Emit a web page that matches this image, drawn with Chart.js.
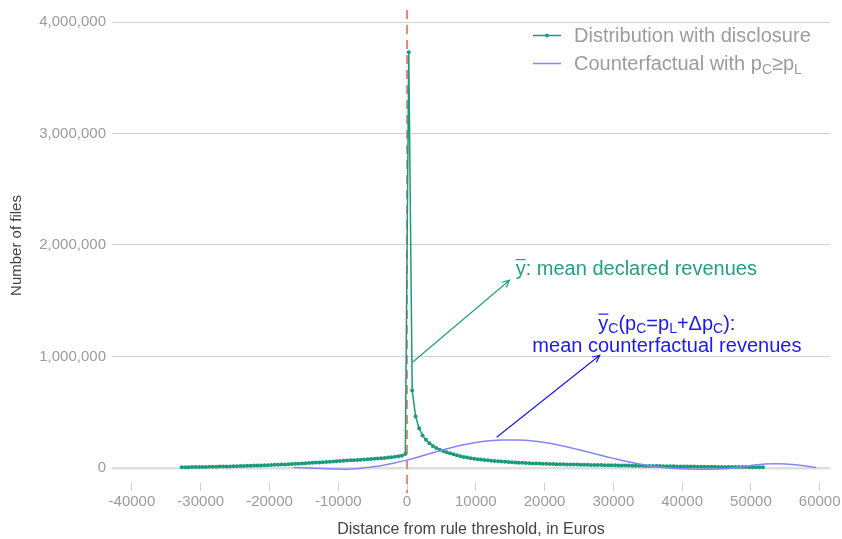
<!DOCTYPE html>
<html>
<head>
<meta charset="utf-8">
<script src="https://cdn.jsdelivr.net/npm/chart.js@4.4.1/dist/chart.umd.min.js"></script>
<style>
  html, body { margin: 0; padding: 0; background: #fff; }
  #wrap { width: 842px; height: 539px; }
</style>
</head>
<body>
<div id="wrap"><canvas id="chart" width="842" height="539"></canvas></div>
<script>
// Bunching at the disclosure threshold — histogram vs counterfactual

const xTicks = [-40000, -30000, -20000, -10000, 0, 10000, 20000, 30000, 40000, 50000, 60000];
const yTicks = [0, 1000000, 2000000, 3000000, 4000000];

// histogram bins: 500 euro wide, first centre at -32750
const binStart = -32750;
const binWidth = 500;
const greenCounts = [
    6000, 6500, 7000, 7500, 8000, 8500, 9000, 9500, 10000, 10500,
    11000, 12000, 12500, 13000, 14000, 15000, 16000, 17000, 18000, 19000,
    20000, 21000, 22000, 23000, 24000, 25000,
    27000, 28000, 29000, 31000, 32000, 34000, 35000, 37000, 38000, 40000,
    42000, 44000, 46000, 48000, 50000, 52000, 54000, 56000, 58000, 60000,
    62000, 64000, 66000, 68000, 70000, 72000, 74000, 76000, 78000, 80000,
    82000, 85000, 87000, 90000, 93000, 96000, 100000, 104000, 110000, 125000,
    3730000, 695000, 462000, 356000, 292000, 252000, 222000, 198000, 179000, 164000,
    152000, 141000, 131000, 122000, 114000, 106000, 99000, 93000, 88000, 83000,
    79000, 75000, 71000, 68000, 65000, 62000, 60000, 58000, 56000, 54000,
    51000, 49000, 47000, 46000, 44000, 43000, 41000, 40000, 39000, 38000,
    37000, 36000, 35000, 34000, 33000, 32500, 32000, 31000, 30500, 30000,
    29500, 29000, 28000, 27500, 27000, 26500, 26000, 25000, 24500, 24000,
    23500, 23000, 22500, 22000, 21000, 20500, 20000, 19500, 19000, 18500,
    18000, 17500, 17000, 16500, 16000, 15500, 15000, 14500, 14000, 13500,
    13000, 12500, 12000, 12000, 11500, 11000, 11000, 10500, 10000, 10000,
    9500, 9000, 9000, 8500, 8500, 8000, 8000, 7500, 7500, 7000,
    7000, 6500, 6500, 6000
];

// counterfactual density (smooth curve)
const blueX = [-16500, -14000, -12000, -10000, -8000, -6000, -4000, -2000,
    0, 2000, 4000, 6000, 8000, 10000, 12000, 14000, 16000, 18000,
    20000, 22000, 24000, 26000, 28000, 30000, 32000, 34000, 36000, 38000,
    40000, 42000, 44000, 46000, 48000, 50000, 52000, 54000, 56000, 58000, 59500];
const blueY = [5000, 0, -6000, -10000, -10000, 3000, 18000, 42000,
    70000, 105000, 140000, 175000, 205000, 228000, 243000, 251000, 250000, 243000,
    228000, 206000, 178000, 148000, 117000, 86000, 57000, 33000, 12000, 0,
    -8000, -12000, -12000, -8000, 5000, 22000, 36000, 38000, 32000, 18000, 3000];

const GREEN = '#1b9a7c';
const GREEN_TXT = '#22a080';
const BLUE_LINE = '#8585ff';
const BLUE_TXT = '#1a1af0';
const GREY = '#9c9c9c';
const FONT = "'Liberation Sans', Arial, sans-serif";

const greenPoints = greenCounts.map((v, i) => ({ x: binStart + i * binWidth, y: v }));
const bluePoints = blueX.map((x, i) => ({ x: x, y: blueY[i] }));

function fontStr(size) { return size + 'px ' + FONT; }

function richWidth(ctx, parts, size) {
    let w = 0;
    for (const p of parts) {
        ctx.font = fontStr(p.sub ? size * 0.7 : size);
        w += ctx.measureText(p.t).width;
    }
    return w;
}

function drawRich(ctx, parts, x, y, size, color, align) {
    const w = richWidth(ctx, parts, size);
    let cx = align === 'center' ? x - w / 2 : x;
    ctx.textAlign = 'left';
    ctx.textBaseline = 'alphabetic';
    ctx.fillStyle = color;
    ctx.strokeStyle = color;
    for (const p of parts) {
        const s = p.sub ? size * 0.7 : size;
        ctx.font = fontStr(s);
        const dy = p.sub ? size * 0.18 : 0;
        ctx.fillText(p.t, cx, y + dy);
        const pw = ctx.measureText(p.t).width;
        if (p.over) {
            ctx.lineWidth = 1.2;
            ctx.beginPath();
            ctx.moveTo(cx, y - size * 0.78);
            ctx.lineTo(cx + pw, y - size * 0.78);
            ctx.stroke();
        }
        cx += pw;
    }
}

function arrow(ctx, x0, y0, x1, y1, color) {
    const a = Math.atan2(y1 - y0, x1 - x0);
    const h = 8;
    ctx.strokeStyle = color;
    ctx.lineWidth = 1.2;
    ctx.beginPath();
    ctx.moveTo(x0, y0);
    ctx.lineTo(x1, y1);
    ctx.moveTo(x1 - h * Math.cos(a - 0.45), y1 - h * Math.sin(a - 0.45));
    ctx.lineTo(x1, y1);
    ctx.lineTo(x1 - h * Math.cos(a + 0.45), y1 - h * Math.sin(a + 0.45));
    ctx.stroke();
}

const overlay = {
    id: 'overlay',
    beforeDatasetsDraw(chart) {
        const { ctx, chartArea, scales: { x } } = chart;
        const px = x.getPixelForValue(0);
        ctx.save();
        ctx.strokeStyle = 'rgba(238,110,90,0.85)';
        ctx.lineWidth = 2;
        ctx.setLineDash([9, 6]);
        ctx.beginPath();
        ctx.moveTo(px, chartArea.top + 2);
        ctx.lineTo(px, chartArea.bottom + 10);
        ctx.stroke();
        ctx.restore();
    },
    afterDatasetsDraw(chart) {
        const { ctx, chartArea, scales: { x, y } } = chart;
        ctx.save();

        // legend
        const lx = chartArea.right - 297;
        ctx.lineWidth = 1.5;
        ctx.strokeStyle = GREEN;
        ctx.beginPath(); ctx.moveTo(lx, 35.5); ctx.lineTo(lx + 28, 35.5); ctx.stroke();
        ctx.fillStyle = GREEN;
        ctx.beginPath(); ctx.arc(lx + 14, 35.5, 2, 0, Math.PI * 2); ctx.fill();
        ctx.strokeStyle = BLUE_LINE;
        ctx.beginPath(); ctx.moveTo(lx, 63.5); ctx.lineTo(lx + 28, 63.5); ctx.stroke();
        drawRich(ctx, [{ t: 'Distribution with disclosure' }], lx + 41, 42, 20, GREY, 'left');
        drawRich(ctx, [{ t: 'Counterfactual with p' }, { t: 'C', sub: true }, { t: '\u2265p' }, { t: 'L', sub: true }],
            lx + 41, 70, 20, GREY, 'left');

        // annotations
        arrow(ctx, x.getPixelForValue(800), y.getPixelForValue(948000),
            x.getPixelForValue(14900), y.getPixelForValue(1684000), GREEN_TXT);
        drawRich(ctx, [{ t: 'y', over: true }, { t: ': mean declared revenues' }],
            x.getPixelForValue(15800), y.getPixelForValue(1729000), 20, GREEN_TXT, 'left');

        arrow(ctx, x.getPixelForValue(13030), y.getPixelForValue(275000),
            x.getPixelForValue(28030), y.getPixelForValue(1011000), BLUE_TXT);
        const bx = x.getPixelForValue(37780);
        drawRich(ctx, [{ t: 'y', over: true }, { t: 'C', sub: true }, { t: '(p' }, { t: 'C', sub: true },
            { t: '=p' }, { t: 'L', sub: true }, { t: '+\u0394p' }, { t: 'C', sub: true }, { t: '):' }],
            bx, y.getPixelForValue(1240000), 20, BLUE_TXT, 'center');
        drawRich(ctx, [{ t: 'mean counterfactual revenues' }],
            bx, y.getPixelForValue(1038000), 20, BLUE_TXT, 'center');
        ctx.restore();
    }
};

new Chart(document.getElementById('chart'), {
    type: 'line',
    data: {
        datasets: [
            {
                label: 'Counterfactual with pC\u2265pL',
                data: bluePoints,
                borderColor: BLUE_LINE,
                borderWidth: 1.5,
                pointRadius: 0,
                tension: 0.4,
                fill: false,
            },
            {
                label: 'Distribution with disclosure',
                data: greenPoints,
                borderColor: GREEN,
                backgroundColor: GREEN,
                borderWidth: 1.5,
                pointRadius: 2,
                pointBorderWidth: 0,
                pointBackgroundColor: GREEN,
                tension: 0,
                fill: false,
            },
        ],
    },
    options: {
        responsive: false,
        animation: false,
        layout: { padding: { top: 8, right: 12, bottom: 0, left: 0 } },
        plugins: {
            legend: { display: false },
            tooltip: { enabled: false },
        },
        scales: {
            x: {
                type: 'linear',
                min: -42900,
                max: 61500,
                afterBuildTicks: (axis) => { axis.ticks = xTicks.map(v => ({ value: v })); },
                afterFit: (axis) => {
                    axis.height = 56;
                    axis.paddingLeft = 0;
                    axis.paddingRight = 0;
                },
                ticks: {
                    color: GREY,
                    font: { family: FONT, size: 15 },
                    padding: 2,
                    maxRotation: 0,
                    autoSkip: false,
                    callback: (v) => String(v),
                },
                grid: {
                    drawOnChartArea: false,
                    drawTicks: true,
                    tickLength: 8,
                    tickColor: '#d0d0d0',
                    tickWidth: 1,
                },
                border: { display: false },
                title: {
                    display: true,
                    text: 'Distance from rule threshold, in Euros',
                    color: '#444',
                    font: { family: FONT, size: 16 },
                    padding: { top: 0, bottom: 0 },
                },
            },
            y: {
                min: -135000,
                max: 4126000,
                afterBuildTicks: (axis) => { axis.ticks = yTicks.map(v => ({ value: v })); },
                afterFit: (axis) => {
                    axis.width = 112;
                    axis.paddingTop = 0;
                    axis.paddingBottom = 0;
                },
                ticks: {
                    color: GREY,
                    font: { family: FONT, size: 15 },
                    padding: 6,
                    callback: (v) => v.toLocaleString('en-US'),
                },
                grid: {
                    drawTicks: false,
                    color: (c) => c.tick && c.tick.value === 0 ? '#dedede' : '#d2d2d2',
                    lineWidth: (c) => c.tick && c.tick.value === 0 ? 2.5 : 1,
                },
                border: { display: false },
                title: {
                    display: true,
                    text: 'Number of files',
                    color: '#444',
                    font: { family: FONT, size: 15 },
                    padding: { top: 8, bottom: 0 },
                },
            },
        },
    },
    plugins: [overlay],
});
</script>
</body>
</html>
